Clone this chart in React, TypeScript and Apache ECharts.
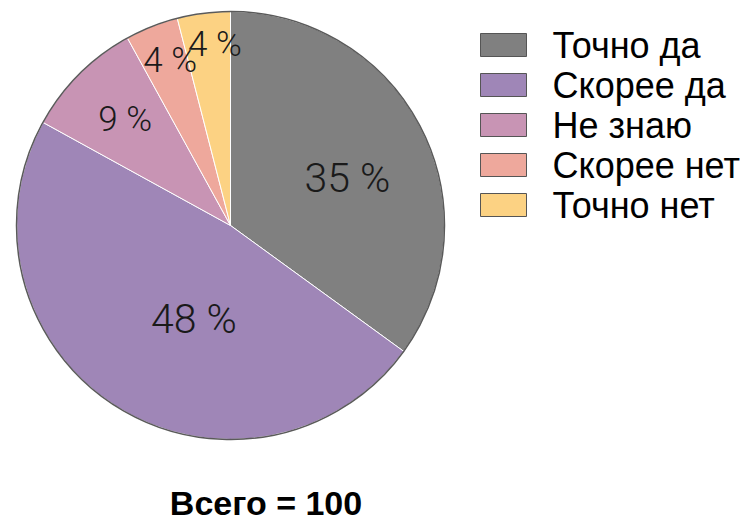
import React, { useEffect, useRef } from "react";
import * as echarts from "echarts";

const categories = ["Точно да", "Скорее да", "Не знаю", "Скорее нет", "Точно нет"];
const values = [35, 48, 9, 4, 4];
const colors = ["#808080", "#9f86b7", "#c894b4", "#eea89c", "#fcd283"];
const titleText = "Всего = 100";

// label placement styling (radius fraction, angle tweak in degrees, font size)
const labelRadiusFrac = [0.59, 0.47, 0.7, 0.82, 0.85];
const labelAngleTweak = [4.7, -11.1, 0.3, 1.5, 2.3];
const labelFontSize = [41, 41, 35, 35, 35];

const CX = 230.5;
const CY = 225.5;
const R = 214;

export default function App() {
  const ref = useRef<HTMLDivElement>(null);
  useEffect(() => {
    if (!ref.current) return;
    const chart = echarts.init(ref.current, null, { renderer: "svg" });
    const total = values.reduce((a, b) => a + b, 0);
    const cum: number[] = [];
    let acc = 0;
    values.forEach((v) => {
      cum.push(acc + v / 2);
      acc += v;
    });
    chart.setOption({
      animation: false,
      title: {
        text: titleText,
        left: 266,
        top: 488,
        padding: 0,
        textAlign: "center",
        textStyle: {
          fontFamily: "Liberation Sans, Arial, sans-serif",
          fontWeight: "bold",
          fontSize: 34,
          lineHeight: 30,
          color: "#000",
        },
      },
      legend: {
        orient: "vertical",
        left: 480,
        top: 27,
        padding: 0,
        itemWidth: 46,
        itemHeight: 23,
        itemGap: 4,
        icon: "rect",
        data: categories,
        itemStyle: { borderColor: "#555", borderWidth: 1 },
        textStyle: {
          fontFamily: "Liberation Sans, Arial, sans-serif",
          fontSize: 36,
          lineHeight: 36,
          color: "#000",
          padding: [0, 0, 0, 21],
        },
      },
      graphic: [
        {
          type: "circle",
          shape: { cx: CX, cy: CY, r: R },
          style: { fill: "none", stroke: "#5a5a5a", lineWidth: 1.5 },
          z: 10,
          silent: true,
        },
      ],
      series: [
        {
          type: "pie",
          center: [CX, CY],
          radius: [0, R],
          startAngle: 90,
          clockwise: true,
          itemStyle: { borderColor: "#ffffff", borderWidth: 1 },
          label: {
            show: true,
            position: "inside",
            formatter: "{c} %",
            fontFamily: "Roboto, sans-serif",
            fontWeight: 300,
            color: "#1a1a1a",
          },
          labelLine: { show: false },
          labelLayout: (params: any) => {
            const i = params.dataIndex;
            const ang = ((cum[i] / total) * 360 + labelAngleTweak[i]) * (Math.PI / 180);
            const d = labelRadiusFrac[i] * R;
            return {
              x: CX + Math.sin(ang) * d,
              y: CY - Math.cos(ang) * d,
              align: "center",
              verticalAlign: "middle",
              fontSize: labelFontSize[i],
            };
          },
          data: categories.map((name, i) => ({
            name,
            value: values[i],
            itemStyle: { color: colors[i] },
          })),
        },
      ],
    });
    return () => chart.dispose();
  }, []);
  return (
    <div
      ref={ref}
      style={{ position: "fixed", left: 0, top: 0, width: 740, height: 521, background: "#fff" }}
    />
  );
}
